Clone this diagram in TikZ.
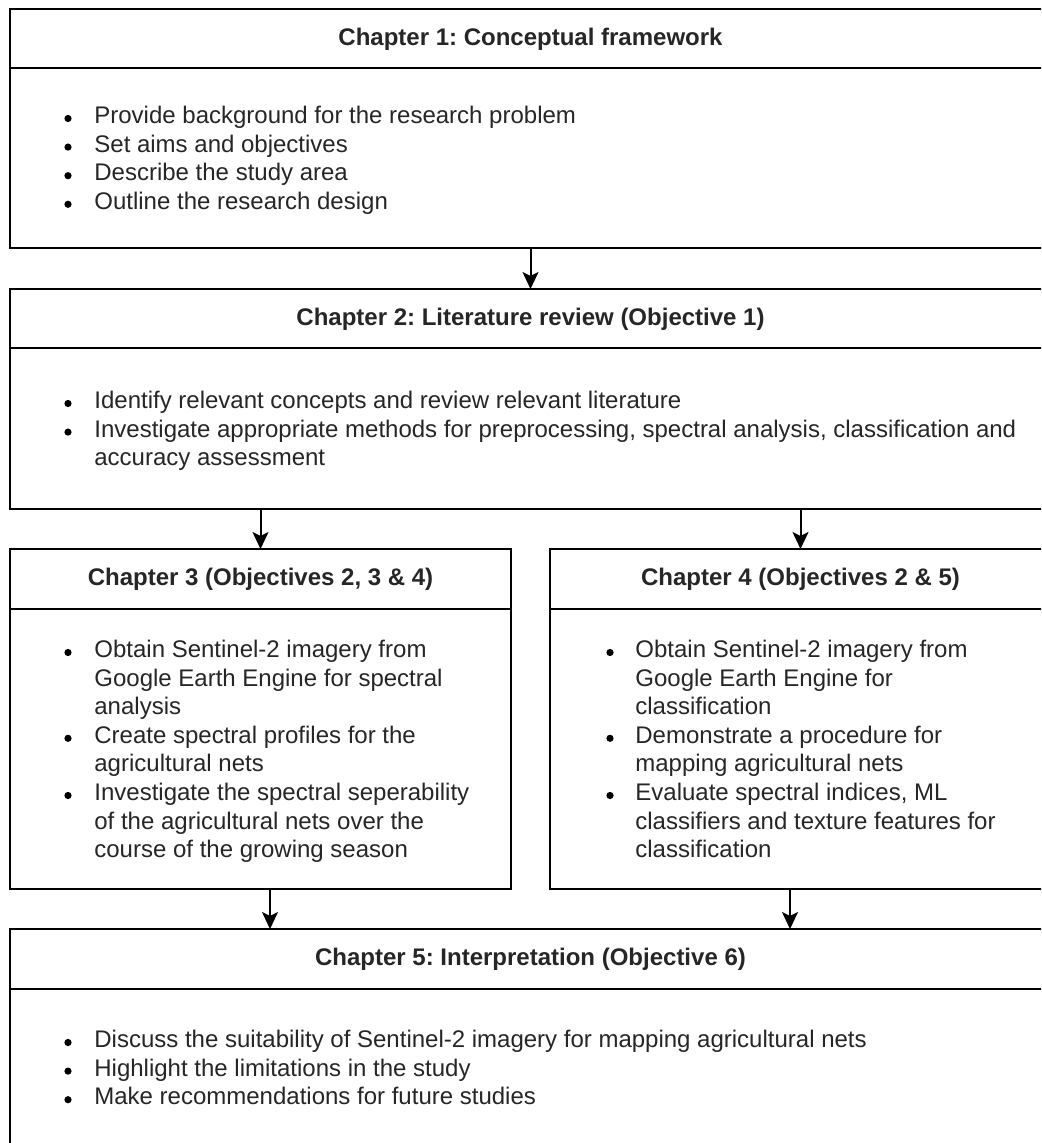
\documentclass[tikz,border=0pt]{standalone}
\usepackage{fontspec}
\setmainfont{Liberation Sans}
\usetikzlibrary{arrows.meta,calc}
\frenchspacing
\begin{document}
\begin{tikzpicture}[x=0.5pt,y=-0.5pt,
  box/.style={draw=black, line width=1pt, fill=white, rectangle, anchor=north west, inner sep=0pt, outer sep=0pt},
  headline/.style={line width=1pt},
  head/.style={font=\frenchspacing\bfseries\fontsize{12}{14.4}\selectfont, inner sep=0pt, text=black!85},
  txt/.style={font=\frenchspacing\fontsize{12}{14.4}\selectfont, anchor=base west, inner sep=0pt, text=black!85},
  blt/.style={circle, fill=black, inner sep=0pt, minimum size=3.6pt},
  arr/.style={-{Stealth[length=8.5pt,width=8pt,inset=2pt]}, line width=1pt}]
\useasboundingbox (0,0) rectangle (1041,1143);
\clip (0,0) rectangle (1041,1143);

% boxes
\node[box, minimum width=520.5pt, minimum height=119.5pt] (c1) at (10,9) {};
\node[box, minimum width=520.5pt, minimum height=110pt] (c2) at (10,289) {};
\node[box, minimum width=250.5pt, minimum height=170pt] (c3) at (10,549) {};
\node[box, minimum width=250.5pt, minimum height=170pt] (c4) at (550,549) {};
\node[box, minimum width=520.5pt, minimum height=150pt] (c5) at (10,929) {};

% header separators
\foreach \n in {c1,c2,c3,c4,c5}
  \draw[headline] ([yshift=-29.75pt]\n.north west) -- ([yshift=-29.75pt]\n.north east);

% headers
\node[head] (h1) at (530.5,39) {Chapter 1: Conceptual framework};
\node[head] (h2) at (530.5,319) {Chapter 2: Literature review (Objective 1)};
\node[head] (h3) at (260.5,579) {Chapter 3 (Objectives 2, 3 \& 4)};
\node[head] (h4) at (800.5,579) {Chapter 4 (Objectives 2 \& 5)};
\node[head] (h5) at (530.5,959) {Chapter 5: Interpretation (Objective 6)};

% box 1 body
\foreach \t/\b [count=\i from 0] in {
  {Provide background for the research problem}/1,
  {Set aims and objectives}/1,
  {Describe the study area}/1,
  {Outline the research design}/1} {
  \node[txt] (a\i) at (94,{123.5+\i*28.6}) {\t};
  \ifnum\b=1 \node[blt] (ab\i) at (68,{118.5+\i*28.6}) {};\fi
}

% box 2 body
\foreach \t/\b [count=\i from 0] in {
  {Identify relevant concepts and review relevant literature}/1,
  {Investigate appropriate methods for preprocessing, spectral analysis, classification and}/1,
  {accuracy assessment}/0} {
  \node[txt] (b\i) at (94,{408.5+\i*28.6}) {\t};
  \ifnum\b=1 \node[blt] (bb\i) at (68,{403.5+\i*28.6}) {};\fi
}

% box 3 body
\foreach \t/\b [count=\i from 0] in {
  {Obtain Sentinel-2 imagery from}/1,
  {Google Earth Engine for spectral}/0,
  {analysis}/0,
  {Create spectral profiles for the}/1,
  {agricultural nets}/0,
  {Investigate the spectral seperability}/1,
  {of the agricultural nets over the}/0,
  {course of the growing season}/0} {
  \node[txt] (d\i) at (94,{657.5+\i*28.6}) {\t};
  \ifnum\b=1 \node[blt] (db\i) at (68,{652.5+\i*28.6}) {};\fi
}

% box 4 body
\foreach \t/\b [count=\i from 0] in {
  {Obtain Sentinel-2 imagery from}/1,
  {Google Earth Engine for}/0,
  {classification}/0,
  {Demonstrate a procedure for}/1,
  {mapping agricultural nets}/0,
  {Evaluate spectral indices, ML}/1,
  {classifiers and texture features for}/0,
  {classification}/0} {
  \node[txt] (e\i) at (635,{657.5+\i*28.6}) {\t};
  \ifnum\b=1 \node[blt] (eb\i) at (610,{652.5+\i*28.6}) {};\fi
}

% box 5 body
\foreach \t/\b [count=\i from 0] in {
  {Discuss the suitability of Sentinel-2 imagery for mapping agricultural nets}/1,
  {Highlight the limitations in the study}/1,
  {Make recommendations for future studies}/1} {
  \node[txt] (f\i) at (94,{1047.5+\i*28.6}) {\t};
  \ifnum\b=1 \node[blt] (fb\i) at (68,{1042.5+\i*28.6}) {};\fi
}

% connectors
\draw[arr] (c1.south) -- (c2.north);
\draw[arr] (c2.south -| c3.north) -- (c3.north);
\draw[arr] (c2.south -| c4.north) -- (c4.north);
\draw[arr] ([xshift=4.75pt]c3.south) -- ([xshift=4.75pt]c3.south |- c5.north);
\draw[arr] ([xshift=-5.25pt]c4.south) -- ([xshift=-5.25pt]c4.south |- c5.north);
\end{tikzpicture}
\end{document}
